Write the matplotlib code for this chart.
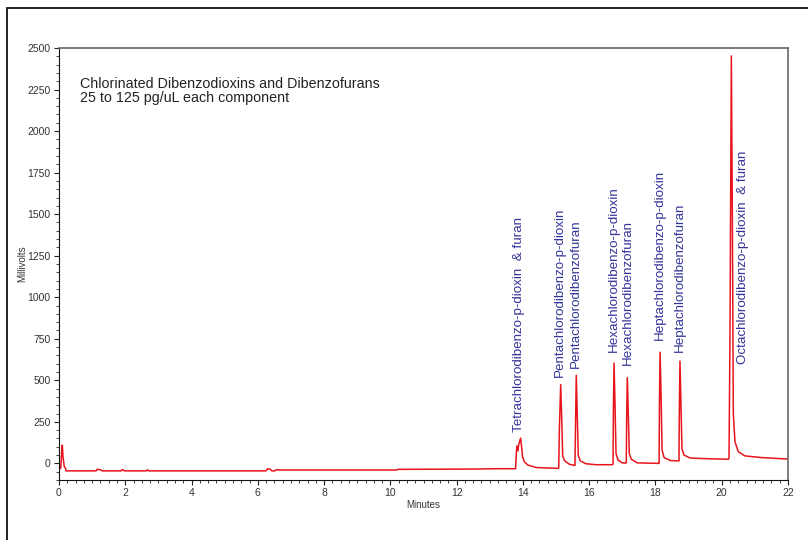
import matplotlib
matplotlib.use("Agg")
import matplotlib.pyplot as plt
from matplotlib.patches import Rectangle
from matplotlib.ticker import MultipleLocator

plt.rcParams['font.family'] = ['Liberation Sans', 'DejaVu Sans']

# Chromatogram trace (minutes, millivolts)
time_min = [0.00, 0.05, 0.08, 0.10, 0.12, 0.16, 0.20, 0.21,
            1.12, 1.15, 1.25, 1.30, 1.88, 1.90, 1.95, 1.97, 2.64, 2.67, 2.70,
            6.25, 6.30, 6.38, 6.42, 6.52, 6.55, 6.62, 6.63,
            10.20, 10.22, 12.60, 13.20, 13.78,
            13.80, 13.82, 13.85, 13.87, 13.93, 13.96, 13.99, 14.04, 14.15, 14.40, 15.06,
            15.08, 15.10, 15.14, 15.17, 15.20, 15.26, 15.40, 15.55,
            15.57, 15.59, 15.61, 15.64, 15.67, 15.73, 15.90, 16.20, 16.70,
            16.72, 16.73, 16.75, 16.78, 16.81, 16.87, 17.00, 17.11,
            17.12, 17.13, 17.15, 17.18, 17.21, 17.27, 17.45, 18.10,
            18.11, 18.12, 18.14, 18.17, 18.20, 18.26, 18.45, 18.70,
            18.71, 18.72, 18.74, 18.77, 18.80, 18.86, 19.05, 19.60, 20.20,
            20.22, 20.25, 20.29, 20.32, 20.35, 20.40, 20.50, 20.70, 21.20, 22.00]
signal_mv = [-30, -30, 60, 110, 40, -20, -30, -45,
             -45, -36, -38, -45, -45, -38, -40, -45, -45, -38, -45,
             -45, -32, -36, -45, -45, -38, -38, -40,
             -40, -36, -34, -32, -32,
             60, 105, 75, 110, 152, 100, 40, 10, -10, -25, -30,
             -28, 200, 474, 280, 45, 15, -5, -12,
             -12, 250, 530, 300, 50, 15, -2, -8, -8,
             -5, 300, 604, 350, 60, 20, 3, 2,
             5, 250, 516, 300, 60, 25, 3, 0,
             0, 350, 669, 400, 80, 35, 17, 15,
             15, 300, 616, 350, 90, 50, 32, 28, 25,
             30, 800, 2452, 1500, 300, 130, 70, 45, 35, 26]

# Peak labels
label_names = ["Tetrachlorodibenzo-p-dioxin  & furan",
               "Pentachlorodibenzo-p-dioxin",
               "Pentachlorodibenzofuran",
               "Hexachlorodibenzo-p-dioxin",
               "Hexachlorodibenzofuran",
               "Heptachlorodibenzo-p-dioxin",
               "Heptachlorodibenzofuran",
               "Octachlorodibenzo-p-dioxin  & furan"]
label_x = [13.87, 15.13, 15.61, 16.74, 17.16, 18.13, 18.73, 20.65]
label_y = [188, 520, 574, 670, 590, 741, 670, 596]

title_lines = "Chlorinated Dibenzodioxins and Dibenzofurans\n25 to 125 pg/uL each component"

fig = plt.figure(figsize=(8.08, 5.40), dpi=100)
ax = fig.add_axes([59/808, 1-480/540, (788-59)/808, (480-48)/540])

ax.plot(time_min, signal_mv, color='#e8141c', lw=1.1)

ax.set_xlim(0, 22)
ax.set_ylim(-100, 2500)
ax.xaxis.set_major_locator(MultipleLocator(2))
ax.xaxis.set_minor_locator(MultipleLocator(0.25))
ax.yaxis.set_major_locator(MultipleLocator(250))
ax.yaxis.set_minor_locator(MultipleLocator(50))
ax.tick_params(which='major', length=3.5, width=0.8, labelsize=7.5, colors='#222222', labelcolor='#333333', pad=2.5)
ax.tick_params(which='minor', length=2, width=0.6, colors='#222222')
ax.tick_params(top=False, right=False)
for s in ['left', 'bottom']:
    ax.spines[s].set_color('#111111')
    ax.spines[s].set_linewidth(0.8)
for s in ['top', 'right']:
    ax.spines[s].set_color('#666666')
    ax.spines[s].set_linewidth(1.2)

ax.set_xlabel("Minutes", fontsize=7, color='#333333', labelpad=1)
ax.set_ylabel("Millivolts", fontsize=7, color='#333333')
ax.yaxis.set_label_coords(-0.044, 0.5)

for name, x, y in zip(label_names, label_x, label_y):
    ax.text(x, y, name, rotation=90, ha='center', va='bottom',
            fontsize=9.6, color='#333399')

ax.text(0.029, 0.933, title_lines, transform=ax.transAxes, ha='left', va='top',
        fontsize=10.25, color='#222222', linespacing=1.0)

fig.patches.append(Rectangle((7/808, -0.2), 1.5, 1 - 8/540 + 0.2, transform=fig.transFigure,
                             fill=False, edgecolor='#111111', lw=1.3))

fig.savefig("out.png", dpi=100)
